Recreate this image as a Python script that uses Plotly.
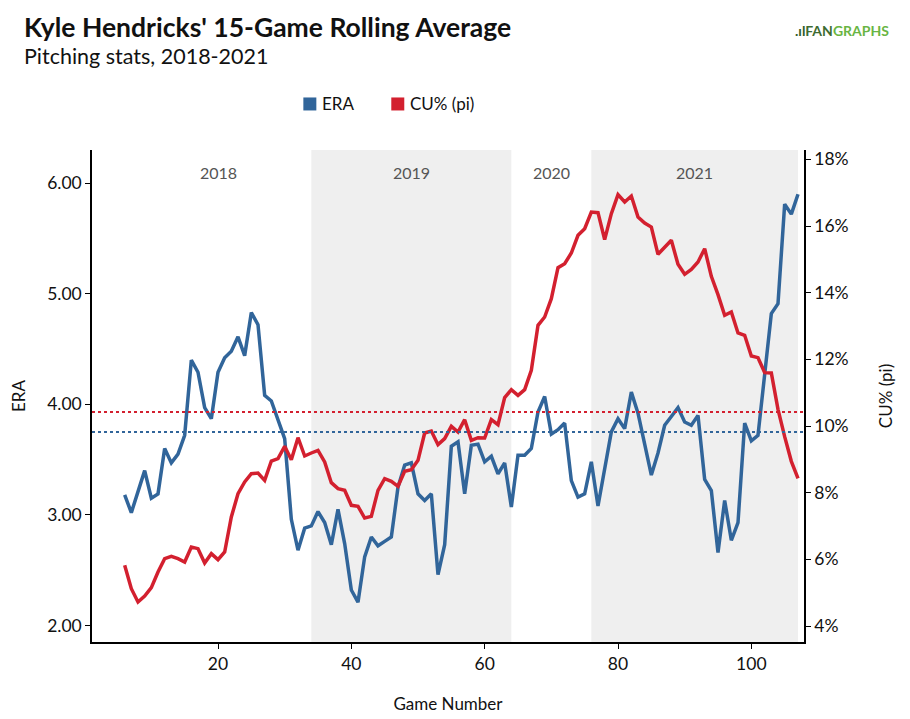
import plotly.graph_objects as go

games = list(range(6, 108))

era = [3.18, 3.02, 3.21, 3.40, 3.15, 3.19, 3.60, 3.47, 3.55, 3.72,
       4.40, 4.29, 3.97, 3.87, 4.29, 4.42, 4.48, 4.61, 4.44, 4.83,
       4.72, 4.08, 4.03, 3.87, 3.69, 2.96, 2.68, 2.88, 2.90, 3.03,
       2.93, 2.73, 3.05, 2.74, 2.32, 2.21, 2.62, 2.80, 2.72, 2.76,
       2.80, 3.25, 3.45, 3.47, 3.19, 3.13, 3.19, 2.46, 2.73, 3.62,
       3.66, 3.19, 3.63, 3.64, 3.48, 3.53, 3.37, 3.47, 3.07, 3.54,
       3.54, 3.60, 3.93, 4.07, 3.73, 3.77, 3.83, 3.31, 3.16, 3.19,
       3.48, 3.08, 3.42, 3.75, 3.87, 3.78, 4.11, 3.92, 3.64, 3.36,
       3.56, 3.81, 3.89, 3.97, 3.84, 3.81, 3.90, 3.32, 3.22, 2.66,
       3.13, 2.77, 2.93, 3.83, 3.67, 3.72, 4.27, 4.82, 4.91, 5.81,
       5.72, 5.90]

cu_pct = [5.82, 5.12, 4.72, 4.90, 5.15, 5.62, 6.02, 6.09, 6.02, 5.92,
          6.37, 6.32, 5.89, 6.17, 5.99, 6.22, 7.27, 7.97, 8.32, 8.57,
          8.59, 8.37, 8.95, 9.02, 9.39, 8.99, 9.65, 9.10, 9.19, 9.27,
          8.92, 8.30, 8.12, 8.07, 7.62, 7.59, 7.24, 7.29, 8.07, 8.42,
          8.34, 8.19, 8.64, 8.69, 8.97, 9.79, 9.85, 9.44, 9.62, 9.99,
          9.82, 10.19, 9.57, 9.65, 9.64, 10.19, 10.04, 10.85, 11.09, 10.92,
          11.09, 11.67, 13.02, 13.27, 13.82, 14.75, 14.87, 15.19, 15.72, 15.92,
          16.42, 16.40, 15.59, 16.37, 16.94, 16.72, 16.90, 16.27, 16.09, 15.97,
          15.15, 15.37, 15.57, 14.85, 14.55, 14.70, 14.92, 15.32, 14.49, 13.94,
          13.32, 13.42, 12.79, 12.72, 12.10, 12.05, 11.60, 11.59, 10.50, 9.68,
          8.94, 8.43]

era_mean = 3.75
cu_mean = 10.42

seasons = ["2018", "2019", "2020", "2021"]
season_start = [6, 34, 64, 76]
season_end = [34, 64, 76, 107]
season_shaded = [False, True, False, True]

left_ticks = [2, 3, 4, 5, 6]
left_ticklabels = ["2.00", "3.00", "4.00", "5.00", "6.00"]
right_ticks = [4, 6, 8, 10, 12, 14, 16, 18]
right_ticklabels = ["4%", "6%", "8%", "10%", "12%", "14%", "16%", "18%"]
x_ticks = [20, 40, 60, 80, 100]

series_names = ["ERA", "CU% (pi)"]
BLUE = "#31659a"
RED = "#d3202f"
series_colors = [BLUE, RED]
FONT = "Lato"

# page offset from the default body margin
OFF = 8
W, H = 910 - OFF, 719 - OFF
PL, PR, PT, PB = 91.5, 804.0, 150.0, 641.7   # plot area in page pixels
PW, PH = PR - PL, PB - PT


def px_to_paper_x(px):
    return (px - PL) / PW


def px_to_paper_y(py):
    return (PB - py) / PH


fig = go.Figure()

fig.add_trace(go.Scatter(x=games, y=era, mode="lines", name=series_names[0],
                         line=dict(color=BLUE, width=3.5), showlegend=False, yaxis="y"))
fig.add_trace(go.Scatter(x=games, y=cu_pct, mode="lines", name=series_names[1],
                         line=dict(color=RED, width=3.5), showlegend=False, yaxis="y2"))

shapes = []
annotations = []
for name, s, e, sh in zip(seasons, season_start, season_end, season_shaded):
    if sh:
        shapes.append(dict(type="rect", xref="x", yref="paper", x0=s, x1=e, y0=0, y1=1,
                           fillcolor="#efefef", line=dict(width=0), layer="below"))
    annotations.append(dict(x=(s + e) / 2, y=px_to_paper_y(172), xref="x", yref="paper",
                            xanchor="center", yanchor="middle",
                            text=name, showarrow=False,
                            font=dict(family=FONT, size=16, color="#555555")))

shapes.append(dict(type="line", xref="paper", yref="y", x0=0, x1=1, y0=era_mean, y1=era_mean,
                   line=dict(color=BLUE, width=2, dash="dot")))
shapes.append(dict(type="line", xref="paper", yref="y2", x0=0, x1=1, y0=cu_mean, y1=cu_mean,
                   line=dict(color=RED, width=2, dash="dot")))

# legend (square swatches + labels)
legend_sq_left = [303, 391]
for nm, col, lx in zip(series_names, series_colors, legend_sq_left):
    shapes.append(dict(type="rect", xref="paper", yref="paper",
                       x0=px_to_paper_x(lx), x1=px_to_paper_x(lx + 13),
                       y0=px_to_paper_y(110.5), y1=px_to_paper_y(97.5),
                       fillcolor=col, line=dict(width=0)))
    annotations.append(dict(xref="paper", yref="paper", x=px_to_paper_x(lx + 17),
                            y=px_to_paper_y(104), xanchor="left", yanchor="middle",
                            showarrow=False, text=nm,
                            font=dict(family=FONT, size=17, color="#111111")))

annotations.append(dict(xref="paper", yref="paper", x=px_to_paper_x(21), y=px_to_paper_y(27),
                        xanchor="left", yanchor="middle", showarrow=False,
                        text="<b>Kyle Hendricks' 15-Game Rolling Average</b>",
                        font=dict(family=FONT, size=26.5, color="#111111")))
annotations.append(dict(xref="paper", yref="paper", x=px_to_paper_x(21), y=px_to_paper_y(56),
                        xanchor="left", yanchor="middle", showarrow=False,
                        text="Pitching stats, 2018-2021",
                        font=dict(family=FONT, size=21.5, color="#111111")))
annotations.append(dict(xref="paper", yref="paper", x=px_to_paper_x(891), y=px_to_paper_y(31),
                        xanchor="right", yanchor="middle", showarrow=False,
                        text="<b><span style='color:#2f5d2a'>.ıl</span><span style='color:#3e6b30'>FAN</span><span style='color:#69b543'>GRAPHS</span></b>",
                        font=dict(family=FONT, size=14)))

fig.update_layout(
    width=W, height=H,
    margin=dict(l=PL - OFF, r=W - (PR - OFF), t=PT - OFF, b=H - (PB - OFF)),
    paper_bgcolor="white", plot_bgcolor="white",
    font=dict(family=FONT, size=16, color="#111111"),
    shapes=shapes, annotations=annotations,
    showlegend=False,
    xaxis=dict(range=[1.1, 107.9], tickvals=x_ticks, showgrid=False, zeroline=False,
               automargin=False,
               showline=True, linecolor="black", linewidth=1.5, ticks="outside", ticklen=5,
               tickcolor="black", tickfont=dict(size=17.5),
               title=dict(text="Game Number", font=dict(size=17), standoff=25)),
    yaxis=dict(range=[1.85, 6.30], tickvals=left_ticks, ticktext=left_ticklabels,
               automargin=False,
               showgrid=False, zeroline=False, showline=True, linecolor="black", linewidth=1.5,
               ticks="outside", ticklen=5, tickcolor="black", tickfont=dict(size=17.5),
               title=dict(text="ERA", font=dict(size=17), standoff=25)),
    yaxis2=dict(range=[3.52, 18.28], tickvals=right_ticks, ticktext=right_ticklabels,
                overlaying="y", side="right", showgrid=False, zeroline=False,
                automargin=False,
                showline=True, linecolor="black", linewidth=1.5,
                ticks="outside", ticklen=5, tickcolor="black", tickfont=dict(size=17.5),
                title=dict(text="CU% (pi)", font=dict(size=17), standoff=33)),
)

fig.write_html("out.html")
